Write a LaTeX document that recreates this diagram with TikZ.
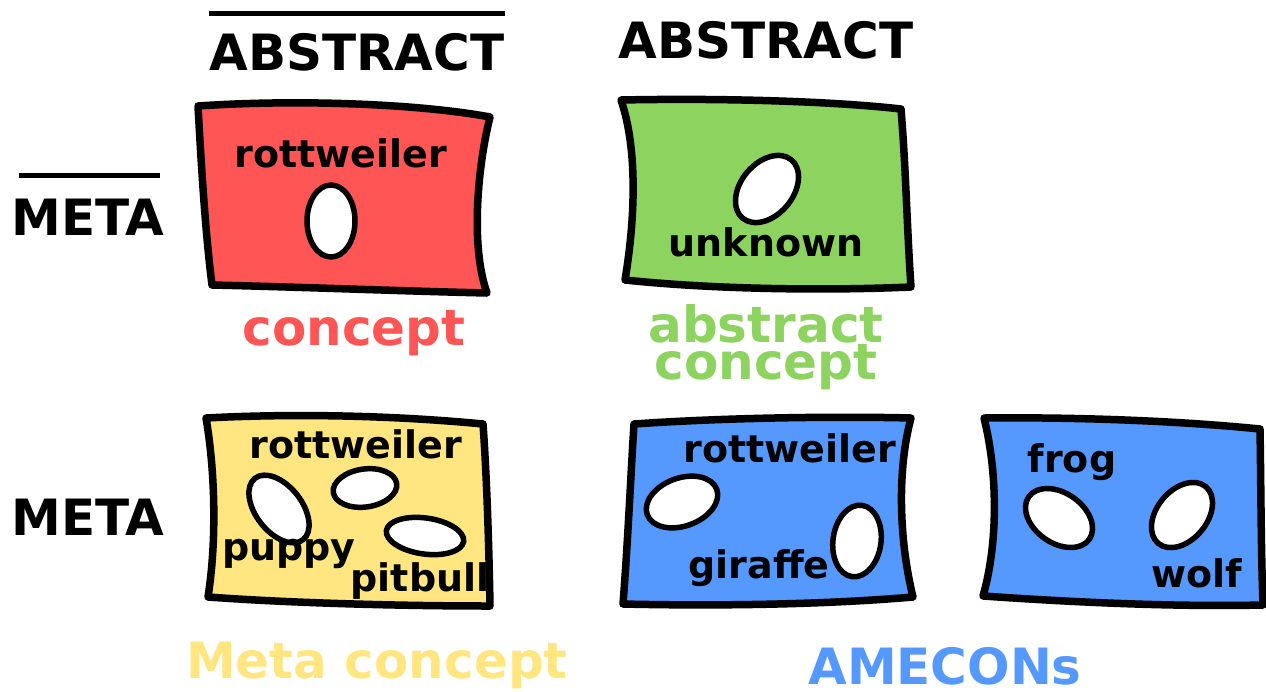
\documentclass[tikz,border=0pt]{standalone}
\usepackage{fontspec}
\setmainfont{DejaVu Sans}
\usepackage{tikz}
\usetikzlibrary{calc}
\definecolor{conceptred}{HTML}{FF5555}
\definecolor{abstractgreen}{HTML}{8DD35F}
\definecolor{metayellow}{HTML}{FFE680}
\definecolor{ameconblue}{HTML}{5599FF}
\tikzset{
  flag/.style={draw=black, line width=7.5pt, line join=round},
  hole/.style={draw=black, fill=white, line width=5.5pt},
  axis/.style={font=\fontsize{50}{50}\selectfont\bfseries, inner sep=0pt, anchor=base},
  member/.style={font=\fontsize{38}{38}\selectfont\bfseries, inner sep=0pt, anchor=base},
  caption/.style={font=\fontsize{50}{37}\selectfont\bfseries, inner sep=0pt, anchor=base, align=center},
  bar/.style={line width=5pt}
}

\begin{document}
\begin{tikzpicture}[x=1pt,y=-1pt]
\path[use as bounding box] (0,0) rectangle (1266,691);

% axis labels
\node[axis] (absA) at (357,70) {ABSTRACT};
\node[axis] (absB) at (766,58) {ABSTRACT};
\node[axis] (metaA) at (88,235) {META};
\node[axis] (metaB) at (88,535) {META};
\draw[bar] ([yshift=19pt]absA.north west) -- ([yshift=19pt]absA.north east);
\draw[bar] ([shift={(8,-23)}]metaA.north west) -- ([shift={(-5,-23)}]metaA.north east);

% flags
\draw[flag, fill=conceptred] (198,106) .. controls (300,99) and (420,104) .. (490,117)
  .. controls (478,165) and (470,245) .. (487,293)
  .. controls (400,291) and (300,287) .. (212,285)
  .. controls (205,230) and (201,160) .. cycle;
\draw[flag, fill=abstractgreen] (621,100) .. controls (720,98) and (830,101) .. (901,109)
  .. controls (906,170) and (907,230) .. (911,287)
  .. controls (820,291) and (710,289) .. (625,280)
  .. controls (635,220) and (638,150) .. cycle;
\draw[flag, fill=metayellow] (206,418) .. controls (300,413) and (400,416) .. (483,424)
  .. controls (487,480) and (489,550) .. (490,606)
  .. controls (400,606) and (290,603) .. (208,597)
  .. controls (217,540) and (215,470) .. cycle;
\draw[flag, fill=ameconblue] (634,424) .. controls (720,418) and (830,416) .. (911,418)
  .. controls (897,470) and (899,540) .. (913,597)
  .. controls (820,605) and (710,606) .. (623,604)
  .. controls (628,540) and (631,470) .. cycle;
\draw[flag, fill=ameconblue] (984,418) .. controls (1080,417) and (1180,421) .. (1260,429)
  .. controls (1261,490) and (1261,550) .. (1263,605)
  .. controls (1170,607) and (1070,602) .. (983,596)
  .. controls (999,540) and (997,470) .. cycle;

% instances
\foreach \cx/\cy/\a/\b/\r in {331/221/24/36/0, 767/189/38/26/50,
    279/509/39/23/-52, 365/488/32/19/8, 425/536/39/18/-8,
    682/502/37/24/20, 857/541/24/36/-8,
    1059/518/37/25/-35, 1182/515/37/25/50}
  \draw[hole, rotate around={\r:(\cx,\cy)}] (\cx,\cy) ellipse [x radius=\a, y radius=\b];

% member names
\node[member] (rotA) at (341,167) {rottweiler};
\node[member] (unk) at (766,256) {unknown};
\node[member] (rotB) at (356,458) {rottweiler};
\node[member] (pup) at (289,560) {puppy};
\node[member] (pit) at (420,591) {pitbull};
\node[member] (rotC) at (790,462) {rottweiler};
\node[member] (gir) at (759,578) {giraffe};
\node[member] (frog) at (1072,472) {frog};
\node[member] (wolf) at (1197,587) {wolf};

% captions
\node[caption, text=conceptred] (capA) at (354,345) {concept};
\node[caption, text=abstractgreen, anchor=center] (capB) at (766,347) {abstract\\concept};
\node[caption, text=metayellow] (capC) at (377,678) {Meta concept};
\node[caption, text=ameconblue] (capD) at (945,684) {AMECONs};
\end{tikzpicture}
\end{document}
